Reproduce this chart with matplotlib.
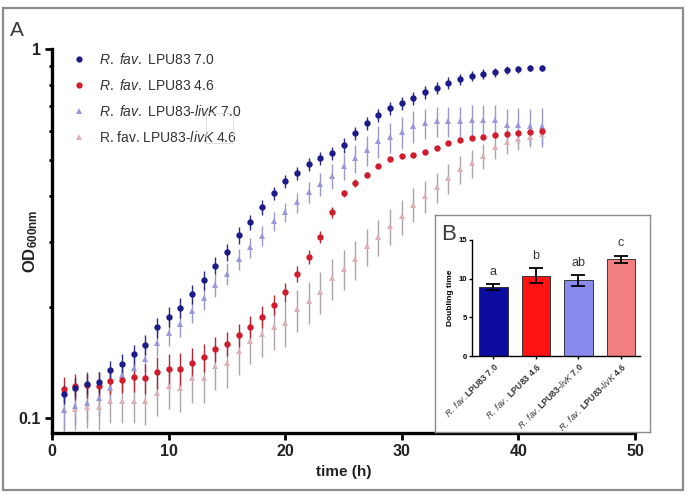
import numpy as np
import matplotlib
matplotlib.use("Agg")
import matplotlib.pyplot as plt
from matplotlib.lines import Line2D
from matplotlib.patches import Rectangle
from matplotlib.ticker import FixedLocator, LogLocator, NullFormatter, FixedFormatter

plt.rcParams['font.family'] = ['Liberation Sans', 'DejaVu Sans']
plt.rcParams['mathtext.fontset'] = 'custom'
plt.rcParams['mathtext.rm'] = 'Liberation Sans'
plt.rcParams['mathtext.it'] = 'Liberation Sans:italic'
plt.rcParams['mathtext.bf'] = 'Liberation Sans:bold'

# growth curves, OD600 (hours 1..42)
hours = list(range(1, 43))

od_wt70 = [0.116, 0.121, 0.124, 0.125, 0.135, 0.140, 0.149, 0.158, 0.176, 0.188,
           0.199, 0.217, 0.236, 0.259, 0.282, 0.313, 0.339, 0.372, 0.406, 0.438,
           0.460, 0.487, 0.506, 0.522, 0.548, 0.591, 0.629, 0.662, 0.691, 0.713,
           0.736, 0.764, 0.783, 0.808, 0.829, 0.845, 0.855, 0.866, 0.877, 0.882,
           0.888, 0.888]
err_wt70 = [0.007, 0.007, 0.008, 0.008, 0.008, 0.009, 0.009, 0.010, 0.011, 0.012,
            0.012, 0.013, 0.014, 0.014, 0.015, 0.016, 0.016, 0.017, 0.017, 0.018,
            0.018, 0.019, 0.020, 0.022, 0.025, 0.025, 0.025, 0.026, 0.027, 0.028,
            0.030, 0.030, 0.030, 0.030, 0.028, 0.026, 0.025, 0.024, 0.022, 0.020,
            0.018, 0.016]

od_wt46 = [0.120, 0.122, 0.123, 0.122, 0.126, 0.127, 0.129, 0.128, 0.133, 0.136,
           0.136, 0.141, 0.146, 0.154, 0.159, 0.168, 0.177, 0.188, 0.203, 0.219,
           0.246, 0.274, 0.310, 0.361, 0.406, 0.433, 0.457, 0.481, 0.502, 0.512,
           0.515, 0.525, 0.538, 0.555, 0.566, 0.573, 0.577, 0.584, 0.588, 0.591,
           0.595, 0.599]
err_wt46 = [0.009, 0.010, 0.010, 0.011, 0.010, 0.010, 0.011, 0.012, 0.013, 0.013,
            0.014, 0.014, 0.013, 0.012, 0.012, 0.012, 0.012, 0.013, 0.013, 0.013,
            0.012, 0.012, 0.012, 0.012, 0.010, 0.010, 0.008, 0.006, 0.006, 0.006,
            0.005, 0.005, 0.005, 0.005, 0.005, 0.005, 0.005, 0.005, 0.005, 0.005,
            0.005, 0.005]

od_liv70 = [0.105, 0.108, 0.110, 0.113, 0.121, 0.131, 0.137, 0.145, 0.160, 0.170,
            0.180, 0.195, 0.211, 0.229, 0.246, 0.270, 0.290, 0.312, 0.341, 0.361,
            0.384, 0.409, 0.430, 0.452, 0.481, 0.506, 0.532, 0.562, 0.577, 0.595,
            0.618, 0.629, 0.637, 0.637, 0.637, 0.641, 0.641, 0.641, 0.622, 0.622,
            0.618, 0.618]
err_liv70 = [0.012, 0.012, 0.012, 0.012, 0.012, 0.012, 0.012, 0.012, 0.013, 0.013,
             0.014, 0.014, 0.015, 0.016, 0.017, 0.018, 0.018, 0.019, 0.020, 0.022,
             0.024, 0.026, 0.030, 0.035, 0.040, 0.045, 0.050, 0.055, 0.055, 0.060,
             0.060, 0.060, 0.060, 0.060, 0.060, 0.062, 0.062, 0.065, 0.065, 0.068,
             0.070, 0.075]

od_liv46 = [0.105, 0.106, 0.107, 0.107, 0.111, 0.111, 0.111, 0.111, 0.117, 0.122,
            0.121, 0.128, 0.128, 0.138, 0.141, 0.152, 0.162, 0.169, 0.177, 0.181,
            0.197, 0.207, 0.220, 0.239, 0.254, 0.269, 0.292, 0.310, 0.332, 0.352,
            0.379, 0.399, 0.422, 0.446, 0.472, 0.490, 0.512, 0.542, 0.559, 0.569,
            0.577, 0.588]
err_liv46 = [0.013, 0.013, 0.013, 0.014, 0.014, 0.014, 0.014, 0.015, 0.016, 0.016,
             0.017, 0.018, 0.018, 0.019, 0.020, 0.021, 0.022, 0.023, 0.024, 0.025,
             0.026, 0.027, 0.028, 0.030, 0.031, 0.032, 0.034, 0.035, 0.037, 0.038,
             0.040, 0.040, 0.040, 0.042, 0.042, 0.042, 0.040, 0.040, 0.038, 0.036,
             0.035, 0.035]

# doubling times (inset B)
dt_labels = [r"$\it{R.}$ $\it{fav.}$LPU83 7.0", r"$\it{R.}$ $\it{fav.}$ LPU83 4.6",
             r"$\it{R.}$ $\it{fav.}$LPU83-$\it{livK}$ 7.0", r"$\it{R.}$ $\it{fav.}$ LPU83-$\it{livK}$ 4.6"]
dt_values = [8.9, 10.4, 9.8, 12.5]
dt_errors = [0.35, 1.0, 0.7, 0.45]
dt_letters = ["a", "b", "ab", "c"]

legend_labels = [r"$\it{R.}$ $\it{fav.}$ LPU83 7.0", r"$\it{R.}$ $\it{fav.}$ LPU83 4.6",
                 r"$\it{R.}$ $\it{fav.}$ LPU83-$\it{livK}$ 7.0", r"R. fav. LPU83-$\it{livK}$ 4.6"]


def main():
    W, H = 689, 498
    fig = plt.figure(figsize=(W / 100, H / 100), dpi=100)

    def fx(px):
        return px / W

    def fy(py):
        return 1 - py / H

    # outer frame
    fig.patches.append(Rectangle((fx(3), fy(490)), fx(680), (490 - 8) / H, transform=fig.transFigure,
                                 fill=False, edgecolor='#8c8c8c', lw=1.6))

    ax = fig.add_axes([fx(52), fy(433), fx(635 - 52), (433 - 49) / H])
    series = [
        (od_liv46, err_liv46, '^', '#ddb0b6', '#aea3a9', 5.0),
        (od_liv70, err_liv70, '^', '#9898da', '#9a9ac8', 5.0),
        (od_wt46, err_wt46, 'o', '#d01c2c', '#b02a35', 4.6),
        (od_wt70, err_wt70, 'o', '#1d1a8c', '#2a2a80', 4.6),
    ]
    for vals, errs, mk, col, ecol, ms in series:
        ax.errorbar(hours, vals, yerr=errs, fmt=mk, color=col, ecolor=ecol, markersize=ms,
                    markeredgewidth=0, elinewidth=1.0, capsize=2.2, capthick=1.0)

    ax.set_yscale('log')
    ax.set_xlim(0, 50)
    ax.set_ylim(0.0911, 1.0)
    ax.spines['top'].set_visible(False)
    ax.spines['right'].set_visible(False)
    for s in ['left', 'bottom']:
        ax.spines[s].set_linewidth(2.4)
    ax.set_xticks([0, 10, 20, 30, 40, 50])
    ax.yaxis.set_major_locator(FixedLocator([0.1, 1.0]))
    ax.yaxis.set_major_formatter(FixedFormatter(['0.1', '1']))
    ax.yaxis.set_minor_locator(LogLocator(base=10, subs=np.arange(2, 10)))
    ax.yaxis.set_minor_formatter(NullFormatter())
    ax.tick_params(which='major', direction='out', length=5, width=2, labelsize=11.5, pad=3)
    ax.tick_params(which='minor', direction='out', length=2.5, width=2)
    for lab in ax.get_xticklabels() + ax.get_yticklabels():
        lab.set_fontweight('bold')
        lab.set_color('#222222')
    ax.set_xlabel('time (h)', fontsize=11, fontweight='bold', color='#222222', labelpad=4)
    ax.set_ylabel(r'$\mathbf{OD}_{\mathbf{600nm}}$', fontsize=12, color='#222222',
                  va='center', ha='center')
    ax.yaxis.set_label_coords(-0.037, 0.5)

    handles = [Line2D([], [], ls='none', marker=mk, color=col, markersize=4.5, markeredgewidth=0)
               for _, _, mk, col, _, _ in series[::-1]]
    leg = ax.legend(handles, legend_labels, loc='upper left', bbox_to_anchor=(fx(73), fy(52)),
                    bbox_transform=fig.transFigure, frameon=False, fontsize=10,
                    handlelength=0.8, handletextpad=1.1, labelspacing=0.8, borderpad=0,
                    borderaxespad=0)
    for t in leg.get_texts():
        t.set_color('#333333')
    # faint box artifact next to the legend
    fig.patches.append(Rectangle((fx(206), fy(143)), fx(27), 30 / H, transform=fig.transFigure,
                                 fill=False, edgecolor='#d8d8d8', lw=0.6))

    fig.text(fx(10), fy(30), 'A', fontsize=15, color='#3a3a3a', va='center', ha='left')

    # inset frame
    box = fig.add_axes([fx(435), fy(432), fx(650 - 435), (432 - 215) / H])
    box.set_xticks([])
    box.set_yticks([])
    for s in box.spines.values():
        s.set_edgecolor('#8c8c8c')
        s.set_linewidth(1.0)
    box.set_zorder(3)

    ins = fig.add_axes([fx(472), fy(356), fx(640 - 472), (356 - 240) / H])
    ins.set_zorder(4)
    ins.patch.set_alpha(0)
    xpos = np.arange(len(dt_values))
    ins.bar(xpos, dt_values, width=0.67, color=['#0c0ca0', '#ff1212', '#8a8aee', '#f27f80'],
            edgecolor='#222222', linewidth=0.6)
    ins.errorbar(xpos, dt_values, yerr=dt_errors, fmt='none', ecolor='black', elinewidth=1.3,
                 capsize=5, capthick=1.3)
    letter_y = [10.9, 12.9, 12.0, 14.6]
    for x, ly, letter in zip(xpos, letter_y, dt_letters):
        ins.text(x, ly, letter, ha='center', va='center', fontsize=9, color='#333333')
    ins.set_xlim(-0.5, 3.45)
    ins.set_ylim(0, 15)
    ins.set_yticks([0, 5, 10, 15])
    ins.spines['top'].set_visible(False)
    ins.spines['right'].set_visible(False)
    ins.spines['left'].set_linewidth(1.0)
    ins.spines['bottom'].set_linewidth(1.0)
    ins.tick_params(axis='y', direction='out', length=2.5, width=1, labelsize=5.5, pad=1)
    ins.tick_params(axis='x', direction='out', length=2.5, width=1, pad=1)
    ins.set_xticks(xpos)
    ins.set_xticklabels(dt_labels, rotation=45, ha='right', rotation_mode='anchor',
                        fontsize=6.3, fontweight='bold', color='#333333')
    for lab in ins.get_yticklabels():
        lab.set_fontweight('bold')
    ins.set_ylabel('Doubling time', fontsize=6, fontweight='bold', labelpad=3)
    fig.text(fx(441), fy(235), 'B', fontsize=16, color='#3a3a3a', va='center', ha='left', zorder=5)

    fig.savefig('out.png', dpi=100)


if __name__ == "__main__":
    main()
